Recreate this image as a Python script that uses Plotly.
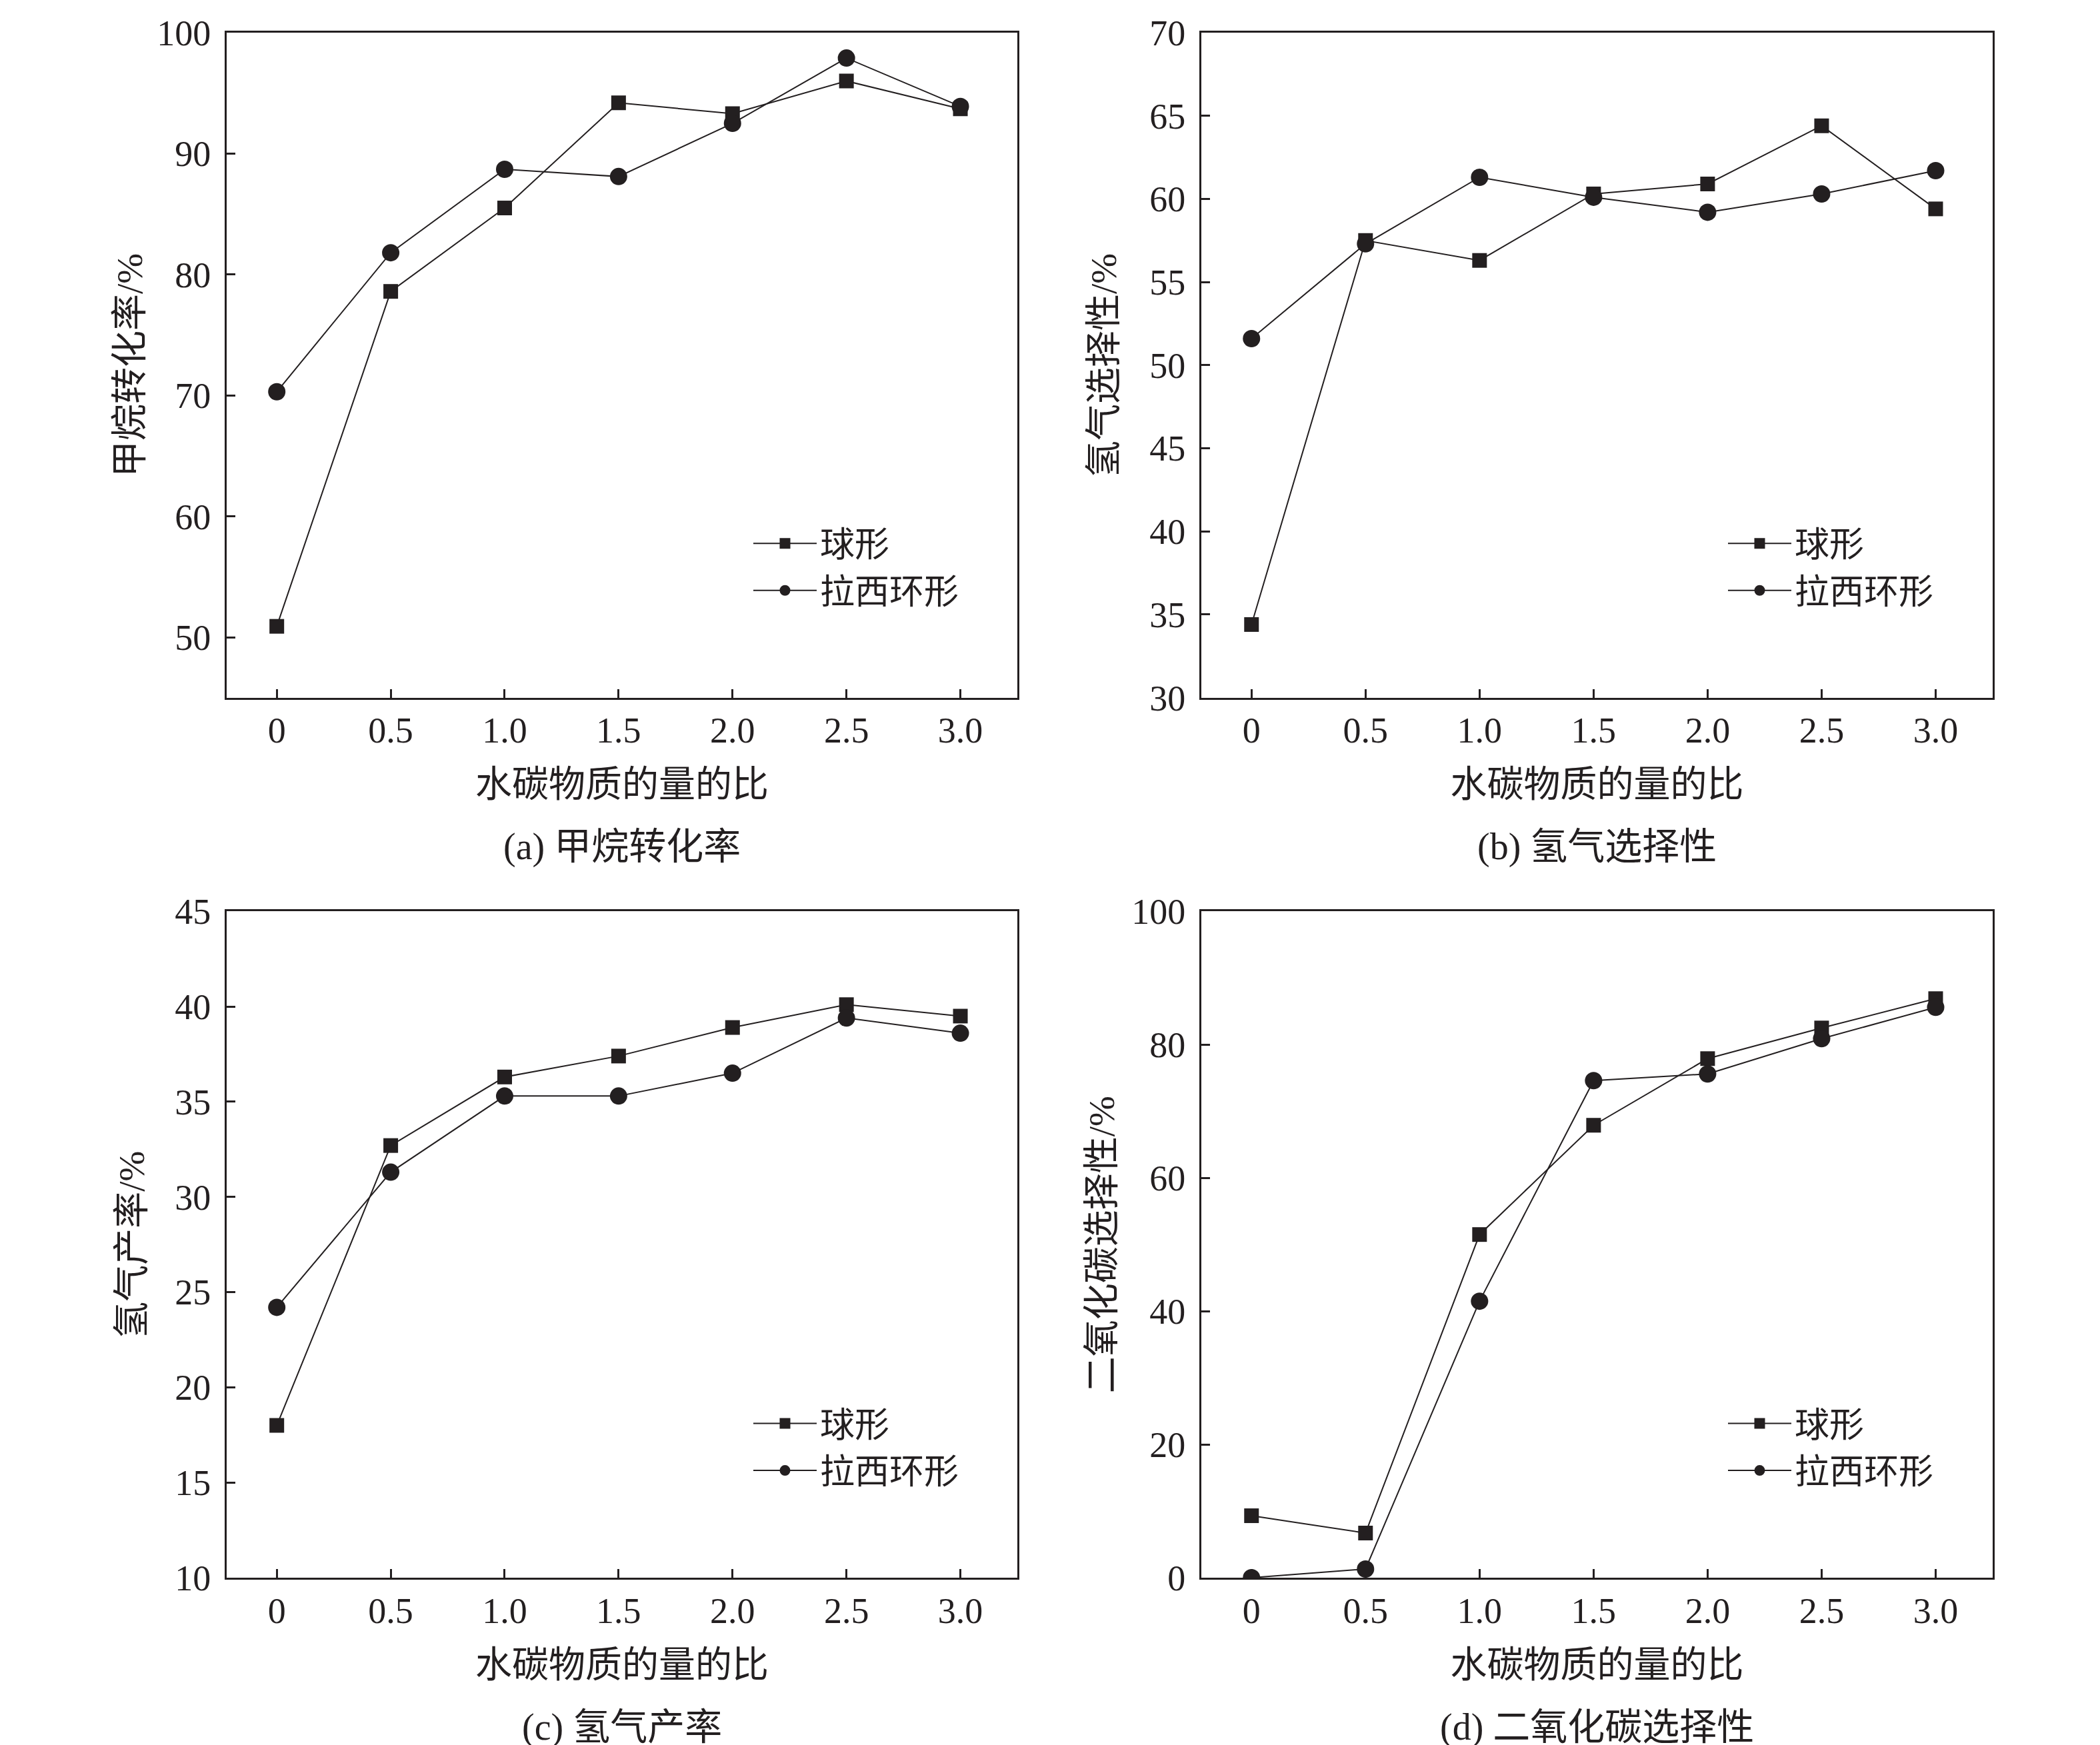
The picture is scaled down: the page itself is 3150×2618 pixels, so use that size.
import plotly.graph_objects as go

# water/carbon molar ratio
ratio = [0, 0.5, 1.0, 1.5, 2.0, 2.5, 3.0]
ratio_ticks = ['0', '0.5', '1.0', '1.5', '2.0', '2.5', '3.0']

series_names = ['球形', '拉西环形']

# (a) methane conversion
ch4_sphere = [50.9, 78.6, 85.5, 94.2, 93.3, 96.0, 93.7]
ch4_raschig = [70.3, 81.8, 88.7, 88.1, 92.5, 97.9, 93.9]
# (b) hydrogen selectivity
h2sel_sphere = [34.4, 57.5, 56.3, 60.3, 60.9, 64.4, 59.4]
h2sel_raschig = [51.6, 57.3, 61.3, 60.1, 59.2, 60.3, 61.7]
# (c) hydrogen yield
h2yield_sphere = [18.0, 32.7, 36.3, 37.4, 38.9, 40.1, 39.5]
h2yield_raschig = [24.2, 31.3, 35.3, 35.3, 36.5, 39.4, 38.6]
# (d) CO2 selectivity
co2sel_sphere = [9.3, 6.7, 51.5, 67.9, 77.9, 82.5, 86.9]
co2sel_raschig = [0.0, 1.3, 41.5, 74.6, 75.6, 80.9, 85.6]

panels = [
    (ch4_sphere, ch4_raschig, '甲烷转化率/%', '(a) 甲烷转化率', [45, 100], [50, 60, 70, 80, 90, 100]),
    (h2sel_sphere, h2sel_raschig, '氢气选择性/%', '(b) 氢气选择性', [30, 70], [30, 35, 40, 45, 50, 55, 60, 65, 70]),
    (h2yield_sphere, h2yield_raschig, '氢气产率/%', '(c) 氢气产率', [10, 45], [10, 15, 20, 25, 30, 35, 40, 45]),
    (co2sel_sphere, co2sel_raschig, '二氧化碳选择性/%', '(d) 二氧化碳选择性', [0, 100], [0, 20, 40, 60, 80, 100]),
]

FONT = 'Liberation Serif, Noto Sans CJK SC, serif'
INK = '#231f20'

W, H = 3150, 2618
ml, mr, mt, mb = 332, 169, 31, 259
pw, ph = W - ml - mr, H - mt - mb

x_doms = [[0, 1186 / pw], [(1794 - ml) / pw, 1]]
y_doms = [[1 - 1002 / ph, 1], [0, 1004 / ph]]
y_standoff = [4, 32, 28, 8]

fig = go.Figure()
layout = {}
annotations = []

for i, (sq, ci, ytitle, caption, yrange, yticks) in enumerate(panels):
    n = i + 1
    sfx = '' if n == 1 else str(n)
    col, row = i % 2, i // 2
    leg = 'legend' + sfx

    fig.add_trace(go.Scatter(
        x=ratio, y=sq, name=series_names[0], mode='lines+markers',
        line=dict(color=INK, width=2),
        marker=dict(symbol='square', size=22, color=INK),
        xaxis='x' + sfx, yaxis='y' + sfx, legend=leg))
    fig.add_trace(go.Scatter(
        x=ratio, y=ci, name=series_names[1], mode='lines+markers',
        line=dict(color=INK, width=2),
        marker=dict(symbol='circle', size=26, color=INK),
        xaxis='x' + sfx, yaxis='y' + sfx, legend=leg))

    layout['xaxis' + sfx] = dict(
        domain=x_doms[col], anchor='y' + sfx, range=[-0.22, 3.25],
        tickvals=ratio, ticktext=ratio_ticks,
        ticks='inside', ticklen=13, tickwidth=2.5, tickcolor=INK,
        ticklabelstandoff=0,
        showline=True, linecolor=INK, linewidth=3, mirror=True,
        showgrid=False, zeroline=False,
        tickfont=dict(family=FONT, size=54, color=INK),
        title=dict(text='水碳物质的量的比', standoff=32,
                   font=dict(family=FONT, size=55, color=INK)))
    layout['yaxis' + sfx] = dict(
        domain=y_doms[row], anchor='x' + sfx, range=yrange,
        tickvals=yticks,
        ticks='inside', ticklen=13, tickwidth=2.5, tickcolor=INK,
        ticklabelstandoff=10,
        showline=True, linecolor=INK, linewidth=3, mirror=True,
        showgrid=False, zeroline=False,
        tickfont=dict(family=FONT, size=54, color=INK),
        title=dict(text=ytitle, standoff=y_standoff[i],
                   font=dict(family=FONT, size=55, color=INK)))
    layout[leg] = dict(
        x=x_doms[col][0] + 785 / pw, y=y_doms[row][0] + 273 / ph,
        xanchor='left', yanchor='top', bgcolor='rgba(0,0,0,0)',
        font=dict(family=FONT, size=52, color=INK),
        itemwidth=95, tracegroupgap=0)

    annotations.append(dict(
        text=caption, showarrow=False, xref='paper', yref='paper',
        x=(x_doms[col][0] + x_doms[col][1]) / 2,
        y=y_doms[row][0] - 225 / ph, xanchor='center', yanchor='middle',
        font=dict(family=FONT, size=56, color=INK)))

fig.update_layout(
    width=W, height=H,
    margin=dict(l=ml, r=mr, t=mt, b=mb),
    paper_bgcolor='white', plot_bgcolor='white',
    annotations=annotations,
    **layout)

fig.write_html('out.html')
